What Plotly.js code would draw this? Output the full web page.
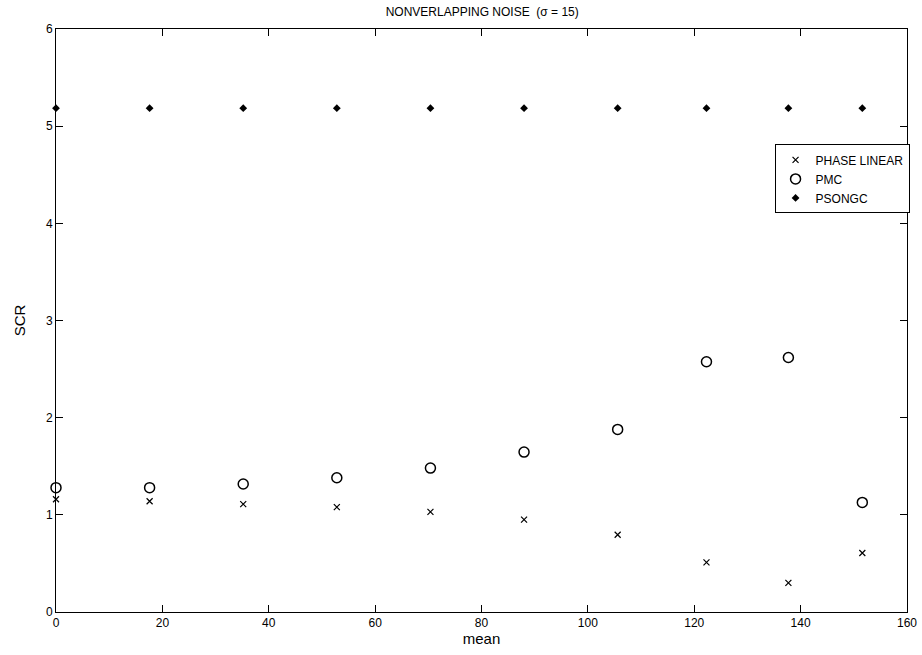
<!DOCTYPE html>
<html>
<head>
<meta charset="utf-8">
<script src="https://cdn.plot.ly/plotly-3.0.1.min.js"></script>
<style>html,body{margin:0;padding:0;background:#fff;}#plot{width:922px;height:655px;}</style>
</head>
<body>
<div id="plot"></div>
<script>
const meanX = [0, 17.6, 35.2, 52.8, 70.4, 88, 105.6, 122.3, 137.7, 151.6];
const phaseLinear = [1.16, 1.14, 1.11, 1.08, 1.03, 0.95, 0.795, 0.51, 0.30, 0.607];
const pmc = [1.28, 1.28, 1.317, 1.382, 1.481, 1.646, 1.879, 2.575, 2.619, 1.128];
const psongc = [5.185, 5.185, 5.185, 5.185, 5.185, 5.185, 5.185, 5.185, 5.185, 5.185];
const xTicks = [0, 20, 40, 60, 80, 100, 120, 140, 160];
const yTicks = [0, 1, 2, 3, 4, 5, 6];

const font = 'Liberation Sans, Arial, sans-serif';
const traces = [
  {x: meanX, y: phaseLinear, name: 'PHASE LINEAR', type: 'scatter', mode: 'markers', cliponaxis: false,
   marker: {symbol: 'x-thin', size: 6, color: '#000', line: {width: 1.2, color: '#000'}}},
  {x: meanX, y: pmc, name: 'PMC', type: 'scatter', mode: 'markers', cliponaxis: false,
   marker: {symbol: 'circle-open', size: 10, color: '#000', line: {width: 1.5, color: '#000'}}},
  {x: meanX, y: psongc, name: 'PSONGC', type: 'scatter', mode: 'markers', cliponaxis: false,
   marker: {symbol: 'diamond', size: 6, color: '#000', line: {width: 0}}}
];
const axisCommon = {
  showline: true, linecolor: '#000', linewidth: 1, mirror: 'ticks',
  ticks: 'inside', ticklen: 7, tickwidth: 1, tickcolor: '#000',
  showgrid: false, zeroline: false, tickfont: {family: font, size: 12, color: '#000'}
};
const layout = {
  width: 922, height: 655,
  margin: {l: 56, r: 12, t: 29, b: 43},
  paper_bgcolor: '#fff', plot_bgcolor: '#fff',
  title: {text: 'NONVERLAPPING NOISE  (σ = 15)', font: {family: font, size: 12, color: '#000'}, x: 0.523, xanchor: 'center', y: 0.988, yanchor: 'top'},
  xaxis: Object.assign({}, axisCommon, {range: [0, 160], tickvals: xTicks, ticktext: xTicks.map(String),
    title: {text: 'mean', font: {family: font, size: 15, color: '#000'}, standoff: 4}}),
  yaxis: Object.assign({}, axisCommon, {range: [0, 6], tickvals: yTicks, ticktext: yTicks.map(String),
    title: {text: 'SCR', font: {family: font, size: 15, color: '#000'}, standoff: 16}}),
  showlegend: true,
  legend: {x: 1.003, xanchor: 'right', y: 0.802, yanchor: 'top', bgcolor: '#fff', bordercolor: '#000', borderwidth: 1,
    font: {family: font, size: 12, color: '#000'}, tracegroupgap: 0, entrywidth: 125, entrywidthmode: 'pixels'}
};
Plotly.newPlot('plot', traces, layout, {staticPlot: true, displayModeBar: false});
</script>
</body>
</html>
